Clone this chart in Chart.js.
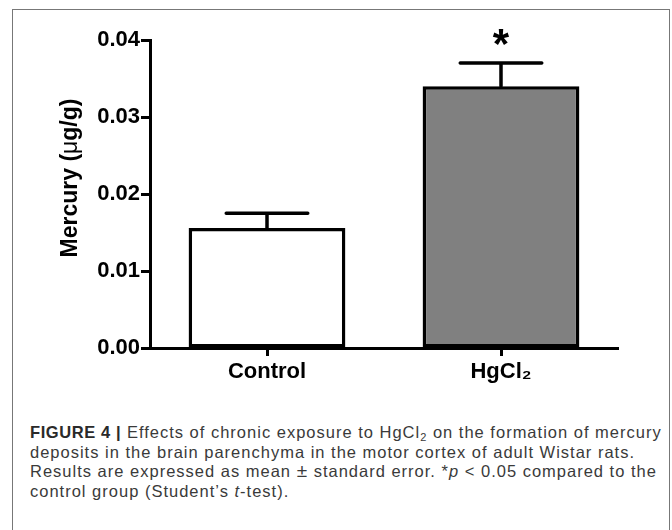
<!DOCTYPE html>
<html>
<head>
<meta charset="utf-8">
<script src="https://cdn.jsdelivr.net/npm/chart.js@4/dist/chart.umd.min.js"></script>
<style>
  html, body { margin: 0; padding: 0; background: #fff; }
  body { width: 672px; height: 530px; position: relative; overflow: hidden; }
  #frame { position: absolute; left: 12px; top: 9px; width: 658px; height: 540px;
           border: 1.5px solid #777; border-bottom: none; box-sizing: border-box; }
  #wrap { position: absolute; left: 0; top: 0; width: 672px; height: 400px; }
  #caption { position: absolute; left: 30px; top: 423px; width: 640px;
             font-family: "Liberation Sans", Arial, Helvetica, sans-serif; font-size: 16.5px;
             letter-spacing: 1px;
             line-height: 19.7px; color: #3a3a3a; white-space: nowrap; }
  #caption b { color: #2a2a2a; letter-spacing: 0.6px; }
  #caption sub { font-size: 11px; vertical-align: -3px; line-height: 0; }
  #caption .pm { font-size: 19px; line-height: 0; }
</style>
</head>
<body>
<div id="frame"></div>
<div id="wrap"><canvas id="c" width="672" height="400"></canvas></div>
<div id="caption">
<b>FIGURE 4 |</b> Effects of chronic exposure to HgCl<sub>2</sub> on the formation of mercury<br>
deposits in the brain parenchyma in the motor cortex of adult Wistar rats.<br>
Results are expressed as mean <span class="pm">±</span> standard error. *<i>p</i> &lt; 0.05 compared to the<br>
control group (Student’s <i>t</i>-test).
</div>
<script>
const categories = ['Control', 'HgCl\u2082'];
const meanValues = [0.0156, 0.0340];
const semValues = [0.0019, 0.0030];
const significance = ['', '*'];
const yMin = 0, yMax = 0.04, yStep = 0.01;
const yTitle = ['Mercury (', 'μ', 'g/g)'];

const FONT = '"Liberation Sans", Arial, Helvetica, sans-serif';

const errorBarPlugin = {
  id: 'errorBars',
  afterDatasetsDraw(chart) {
    const ctx = chart.ctx;
    const meta = chart.getDatasetMeta(0);
    const yScale = chart.scales.y;
    ctx.save();
    ctx.strokeStyle = '#000';
    ctx.lineWidth = 3.5;
    ctx.lineCap = 'round';
    meta.data.forEach((bar, i) => {
      const x = bar.x;
      const yTop = yScale.getPixelForValue(meanValues[i]);
      const yErr = yScale.getPixelForValue(meanValues[i] + semValues[i]);
      const half = bar.width * 0.26;
      ctx.beginPath();
      ctx.moveTo(x, yTop);
      ctx.lineTo(x, yErr);
      ctx.moveTo(x - half, yErr);
      ctx.lineTo(x + half, yErr);
      ctx.stroke();
      if (significance[i]) {
        ctx.fillStyle = '#000';
        ctx.font = 'bold 42px ' + FONT;
        ctx.textAlign = 'center';
        ctx.textBaseline = 'alphabetic';
        ctx.fillText(significance[i], x, yErr - 5);
      }
    });
    ctx.restore();
  }
};

const yTitlePlugin = {
  id: 'yTitle',
  afterDraw(chart) {
    const ctx = chart.ctx;
    ctx.save();
    ctx.translate(71, 178);
    ctx.rotate(-Math.PI / 2);
    ctx.fillStyle = '#000';
    ctx.textBaseline = 'middle';
    const fonts = ['bold 23px ' + FONT, '23px ' + FONT, 'bold 23px ' + FONT];
    let total = 0;
    const widths = yTitle.map((t, i) => { ctx.font = fonts[i]; const w = ctx.measureText(t).width; total += w; return w; });
    let x = -total / 2;
    ctx.textAlign = 'left';
    yTitle.forEach((t, i) => { ctx.font = fonts[i]; ctx.fillText(t, x, 0); x += widths[i]; });
    ctx.restore();
  }
};

new Chart(document.getElementById('c'), {
  type: 'bar',
  data: {
    labels: categories,
    datasets: [{
      data: meanValues,
      backgroundColor: ['#ffffff', '#808080'],
      borderColor: '#000',
      borderWidth: 3.5,
      borderSkipped: false,
      barPercentage: 0.67,
      categoryPercentage: 1
    }]
  },
  options: {
    responsive: false,
    animation: false,
    layout: { padding: { top: 40, right: 54, left: 0, bottom: 0 } },
    plugins: { legend: { display: false }, tooltip: { enabled: false } },
    scales: {
      x: {
        afterFit(s) { s.height = 52; },
        grid: { display: true, drawOnChartArea: false, offset: false, tickLength: 8, tickWidth: 3, tickColor: '#000' },
        border: { display: true, color: '#000', width: 3 },
        ticks: { color: '#000', padding: 3, font: { family: FONT, size: 22, weight: 'bold' } }
      },
      y: {
        min: yMin, max: yMax,
        afterFit(s) { s.width = 150; },
        grid: { display: true, drawOnChartArea: false, tickLength: 9, tickWidth: 3, tickColor: '#000' },
        border: { display: true, color: '#000', width: 3 },
        ticks: { stepSize: yStep, color: '#000', padding: 1,
                 font: { family: FONT, size: 22, weight: 'bold' },
                 callback: v => v.toFixed(2) }
      }
    }
  },
  plugins: [errorBarPlugin, yTitlePlugin]
});
</script>
</body>
</html>
